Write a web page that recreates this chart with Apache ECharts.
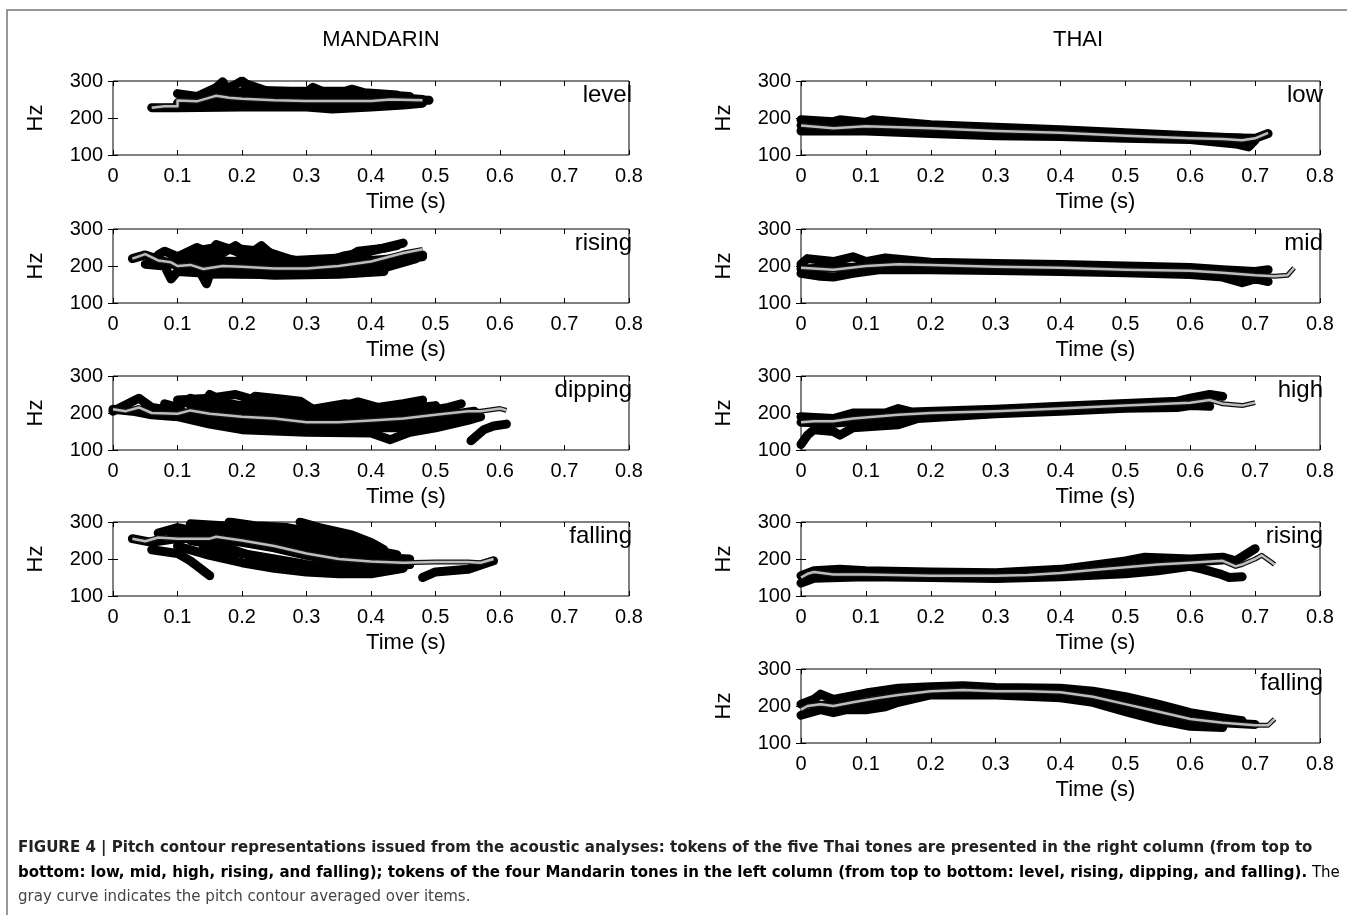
<!DOCTYPE html>
<html>
<head>
<meta charset="utf-8">
<script src="https://cdn.jsdelivr.net/npm/echarts@6/dist/echarts.min.js"></script>
<style>
  html, body { margin: 0; padding: 0; background: #fff; }
  #chart { width: 1347px; height: 915px; }
</style>
</head>
<body>
<div id="chart"></div>
<script>
// ---------------- DATA ----------------
const xTickLabels = ['0', '0.1', '0.2', '0.3', '0.4', '0.5', '0.6', '0.7', '0.8'];
const yTickLabels = ['100', '200', '300'];
const columnTitles = ['MANDARIN', 'THAI'];
const mandarinTones = ['level', 'rising', 'dipping', 'falling'];
const thaiTones = ['low', 'mid', 'high', 'rising', 'falling'];

// Mandarin level
const mLevelTokens = [
  [[0.06,228],[0.1,228],[0.2,230],[0.3,230],[0.34,224],[0.4,230],[0.45,235],[0.48,240]],
  [[0.1,240],[0.2,242],[0.3,240],[0.4,242],[0.48,245]],
  [[0.1,266],[0.13,258],[0.16,282],[0.17,298],[0.18,270],[0.25,262],[0.35,262],[0.42,258],[0.48,250]],
  [[0.15,260],[0.19,290],[0.2,300],[0.22,275],[0.3,270],[0.31,283],[0.33,268],[0.4,265],[0.46,258]],
  [[0.12,250],[0.2,255],[0.3,252],[0.4,252],[0.49,248]],
  [[0.16,262],[0.2,268],[0.21,290],[0.24,272],[0.36,272],[0.37,278],[0.39,268],[0.44,262]]
];
const mLevelMean = [[0.06,228],[0.08,232],[0.1,232],[0.1,247],[0.13,245],[0.15,255],[0.16,260],[0.18,255],[0.2,252],[0.25,248],[0.3,246],[0.4,246],[0.43,250],[0.48,248]];

// Mandarin rising
const mRisingTokens = [
  [[0.03,220],[0.05,230],[0.07,218],[0.09,205],[0.11,200],[0.14,195],[0.2,195],[0.3,190],[0.35,195],[0.4,205],[0.45,220],[0.48,230]],
  [[0.05,205],[0.08,200],[0.09,165],[0.1,185],[0.15,180],[0.2,178],[0.3,178],[0.38,182],[0.42,195],[0.47,220]],
  [[0.13,200],[0.145,152],[0.15,178],[0.2,180],[0.25,175],[0.35,178],[0.42,185]],
  [[0.07,230],[0.08,240],[0.1,225],[0.13,250],[0.15,235],[0.16,258],[0.19,240],[0.2,230],[0.25,225],[0.3,210],[0.33,212],[0.36,228],[0.4,240],[0.45,262]],
  [[0.1,215],[0.17,235],[0.19,255],[0.21,230],[0.23,255],[0.25,225],[0.3,205],[0.35,210],[0.38,240],[0.42,248],[0.44,255]],
  [[0.12,238],[0.16,250],[0.2,245],[0.24,238],[0.28,215],[0.36,222],[0.4,215],[0.44,220],[0.48,228]],
  [[0.08,210],[0.12,215],[0.2,212],[0.25,205],[0.3,198],[0.35,200],[0.4,210],[0.44,218],[0.48,225]]
];
const mRisingMean = [[0.03,220],[0.05,232],[0.07,215],[0.09,210],[0.1,200],[0.12,203],[0.14,192],[0.17,200],[0.2,198],[0.25,193],[0.3,193],[0.35,200],[0.4,212],[0.45,235],[0.48,245]];

// Mandarin dipping
const mDippingTokens = [
  [[0,210],[0.03,205],[0.06,195],[0.1,190],[0.15,170],[0.2,155],[0.3,148],[0.4,146],[0.43,128],[0.46,148],[0.5,160],[0.55,180],[0.57,190]],
  [[0,205],[0.04,240],[0.06,215],[0.1,205],[0.15,185],[0.2,175],[0.3,165],[0.4,165],[0.5,180],[0.56,200]],
  [[0.08,225],[0.1,215],[0.12,240],[0.14,225],[0.15,250],[0.18,225],[0.25,205],[0.3,190],[0.4,190],[0.45,195],[0.52,215],[0.54,225]],
  [[0.1,235],[0.15,240],[0.19,250],[0.22,235],[0.25,225],[0.28,215],[0.33,205],[0.38,230],[0.41,215],[0.45,225],[0.48,235]],
  [[0.12,220],[0.2,220],[0.22,245],[0.26,238],[0.29,232],[0.31,210],[0.36,225],[0.42,210],[0.48,205],[0.52,210]],
  [[0.05,218],[0.1,195],[0.18,185],[0.25,175],[0.35,160],[0.45,160],[0.5,175],[0.55,190]],
  [[0.555,125],[0.575,155],[0.59,165],[0.61,170]],
  [[0.05,205],[0.1,200],[0.2,195],[0.3,180],[0.4,178],[0.5,190],[0.56,205]],
  [[0.15,205],[0.2,205],[0.3,200],[0.4,205],[0.45,210],[0.5,220]]
];
const mDippingMean = [[0,210],[0.02,205],[0.04,215],[0.06,200],[0.1,198],[0.12,207],[0.15,198],[0.2,190],[0.25,185],[0.3,175],[0.35,175],[0.4,180],[0.45,185],[0.5,195],[0.55,205],[0.57,205],[0.6,212],[0.61,207]];

// Mandarin falling
const mFallingTokens = [
  [[0.03,255],[0.06,245],[0.1,255],[0.15,258],[0.2,245],[0.25,230],[0.3,210],[0.35,195],[0.4,190],[0.46,185]],
  [[0.06,225],[0.1,215],[0.12,195],[0.15,155]],
  [[0.07,270],[0.1,285],[0.13,275],[0.18,270],[0.25,250],[0.3,235],[0.35,220],[0.4,205],[0.46,200]],
  [[0.12,295],[0.17,290],[0.2,285],[0.25,270],[0.3,255],[0.35,235],[0.4,215],[0.44,205]],
  [[0.18,300],[0.22,290],[0.27,285],[0.3,275],[0.35,255],[0.38,235],[0.41,210]],
  [[0.29,300],[0.32,285],[0.37,265],[0.4,245],[0.42,225]],
  [[0.1,235],[0.15,210],[0.2,190],[0.25,175],[0.3,165],[0.35,160],[0.4,160],[0.45,175]],
  [[0.12,250],[0.17,235],[0.22,205],[0.28,185],[0.33,175],[0.38,170],[0.43,180],[0.46,185]],
  [[0.48,150],[0.5,165],[0.55,172],[0.59,195]],
  [[0.09,265],[0.15,262],[0.2,262],[0.25,248],[0.3,225],[0.35,205],[0.4,198],[0.46,195]],
  [[0.14,230],[0.2,215],[0.25,200],[0.3,185],[0.35,175],[0.4,175],[0.45,190]],
  [[0.2,292],[0.24,280],[0.28,268],[0.32,250],[0.36,232],[0.4,225],[0.44,212]]
];
const mFallingMean = [[0.03,255],[0.05,248],[0.07,258],[0.1,255],[0.15,255],[0.16,260],[0.2,250],[0.25,235],[0.3,215],[0.35,200],[0.4,193],[0.45,190],[0.5,192],[0.55,192],[0.57,190],[0.59,200]];

// Thai low
const tLowTokens = [
  [[0,195],[0.05,190],[0.06,195],[0.1,188],[0.11,195],[0.2,182],[0.3,175],[0.4,168],[0.5,160],[0.6,152],[0.68,145]],
  [[0,165],[0.1,165],[0.2,158],[0.3,152],[0.4,150],[0.5,145],[0.6,142],[0.67,130],[0.69,122],[0.7,140]],
  [[0,180],[0.1,178],[0.2,170],[0.3,163],[0.4,158],[0.5,152],[0.6,148],[0.7,145],[0.72,158]]
];
const tLowMean = [[0,180],[0.05,172],[0.1,178],[0.2,172],[0.3,165],[0.4,160],[0.5,152],[0.6,145],[0.65,143],[0.68,140],[0.7,145],[0.72,160]];

// Thai mid
const tMidTokens = [
  [[0,205],[0.01,220],[0.05,212],[0.08,225],[0.1,212],[0.13,222],[0.2,210],[0.3,207],[0.4,204],[0.5,200],[0.6,196],[0.65,190],[0.7,185],[0.72,190]],
  [[0,180],[0.03,172],[0.05,170],[0.08,180],[0.12,190],[0.2,190],[0.3,188],[0.4,185],[0.5,182],[0.6,177],[0.65,170],[0.68,155],[0.7,165],[0.72,158]],
  [[0,192],[0.1,198],[0.2,200],[0.3,196],[0.4,195],[0.5,190],[0.6,186],[0.7,178]]
];
const tMidMean = [[0,195],[0.05,190],[0.1,200],[0.15,205],[0.2,203],[0.3,198],[0.4,195],[0.5,190],[0.6,187],[0.65,182],[0.7,175],[0.73,172],[0.75,175],[0.76,195]];

// Thai high
const tHighTokens = [
  [[0,190],[0.05,185],[0.08,200],[0.13,200],[0.15,212],[0.17,203],[0.3,210],[0.4,218],[0.5,226],[0.58,232],[0.6,240],[0.63,250],[0.65,245]],
  [[0,115],[0.01,140],[0.02,155],[0.05,150],[0.06,140],[0.08,160],[0.12,165],[0.15,168],[0.18,185],[0.3,198],[0.4,205],[0.5,213],[0.58,215],[0.6,220],[0.63,218]],
  [[0,175],[0.05,172],[0.1,180],[0.15,190],[0.2,200],[0.3,204],[0.4,212],[0.5,220],[0.6,226],[0.63,238]]
];
const tHighMean = [[0,175],[0.02,178],[0.05,178],[0.08,185],[0.15,195],[0.2,200],[0.3,205],[0.4,212],[0.5,220],[0.6,228],[0.63,235],[0.65,225],[0.68,220],[0.7,228]];

// Thai rising
const tRisingTokens = [
  [[0,135],[0.02,148],[0.1,152],[0.2,150],[0.3,147],[0.4,152],[0.5,160],[0.55,168],[0.6,180],[0.62,172],[0.645,160],[0.66,150],[0.68,152]],
  [[0,155],[0.02,168],[0.06,172],[0.1,168],[0.2,165],[0.3,163],[0.4,172],[0.5,195],[0.53,205],[0.6,200],[0.65,205],[0.67,195],[0.7,228]],
  [[0.02,160],[0.1,160],[0.2,157],[0.3,155],[0.4,162],[0.5,180],[0.55,190],[0.6,192],[0.65,197]]
];
const tRisingMean = [[0,150],[0.01,160],[0.02,165],[0.05,158],[0.1,158],[0.2,155],[0.3,155],[0.35,157],[0.4,162],[0.45,170],[0.5,178],[0.55,185],[0.6,190],[0.65,195],[0.67,180],[0.68,185],[0.7,200],[0.71,210],[0.72,198],[0.73,185]];

// Thai falling
const tFallingTokens = [
  [[0,205],[0.02,218],[0.03,232],[0.05,218],[0.08,228],[0.1,235],[0.15,248],[0.2,252],[0.25,255],[0.3,250],[0.4,248],[0.45,240],[0.5,225],[0.55,205],[0.6,182],[0.65,168],[0.68,160]],
  [[0,175],[0.03,190],[0.05,182],[0.07,190],[0.1,190],[0.13,198],[0.15,210],[0.2,230],[0.3,230],[0.4,222],[0.45,210],[0.5,185],[0.55,162],[0.6,145],[0.65,142]],
  [[0.02,200],[0.05,205],[0.1,210],[0.15,225],[0.2,240],[0.3,240],[0.4,235],[0.45,225],[0.5,205],[0.55,185],[0.6,165],[0.65,155],[0.7,150]]
];
const tFallingMean = [[0,190],[0.01,200],[0.03,205],[0.05,200],[0.08,210],[0.12,222],[0.15,230],[0.2,240],[0.25,243],[0.3,240],[0.35,240],[0.4,237],[0.45,225],[0.5,205],[0.55,185],[0.6,165],[0.65,155],[0.7,148],[0.72,148],[0.73,165]];

const captionBold1 = 'FIGURE 4 | Pitch contour representations issued from the acoustic analyses: tokens of the five Thai tones are presented in the right column (from top to';
const captionBold2 = 'bottom: low, mid, high, rising, and falling); tokens of the four Mandarin tones in the left column (from top to bottom: level, rising, dipping, and falling).';
const captionNormal2 = ' The';
const captionNormal3 = 'gray curve indicates the pitch contour averaged over items.';

// ---------------- LAYOUT ----------------
const panels = [
  { col: 0, row: 0, label: mandarinTones[0], tokens: mLevelTokens, mean: mLevelMean },
  { col: 0, row: 1, label: mandarinTones[1], tokens: mRisingTokens, mean: mRisingMean },
  { col: 0, row: 2, label: mandarinTones[2], tokens: mDippingTokens, mean: mDippingMean },
  { col: 0, row: 3, label: mandarinTones[3], tokens: mFallingTokens, mean: mFallingMean },
  { col: 1, row: 0, label: thaiTones[0], tokens: tLowTokens, mean: tLowMean },
  { col: 1, row: 1, label: thaiTones[1], tokens: tMidTokens, mean: tMidMean },
  { col: 1, row: 2, label: thaiTones[2], tokens: tHighTokens, mean: tHighMean },
  { col: 1, row: 3, label: thaiTones[3], tokens: tRisingTokens, mean: tRisingMean },
  { col: 1, row: 4, label: thaiTones[4], tokens: tFallingTokens, mean: tFallingMean }
];
const colLeft = [113, 801];
const colWidth = [516, 519];
const rowTop = [81, 229, 376, 522, 669];
const plotH = 74;
const FONT = '"Liberation Sans", Arial, Helvetica, sans-serif';

const grids = [], xAxes = [], yAxes = [], series = [], graphics = [];
const tickStyle = { show: true, inside: true, length: 5, lineStyle: { color: '#000', width: 1 } };

panels.forEach((p, i) => {
  const left = colLeft[p.col], top = rowTop[p.row], w = colWidth[p.col];
  grids.push({ left: left, top: top, width: w, height: plotH, show: true, borderColor: '#000', borderWidth: 1, backgroundColor: '#fff' });
  const xBase = { type: 'value', gridIndex: i, min: 0, max: 0.8, interval: 0.1, splitLine: { show: false }, axisLine: { show: false } };
  xAxes.push(Object.assign({}, xBase, {
    position: 'bottom', axisTick: tickStyle,
    axisLabel: { color: '#000', fontFamily: FONT, fontSize: 20, margin: 11,
      formatter: v => xTickLabels[Math.round(v * 10)] },
    name: 'Time (s)', nameLocation: 'middle', nameGap: 36,
    nameTextStyle: { color: '#000', fontFamily: FONT, fontSize: 22, padding: [0, 0, 0, 70] }
  }));
  xAxes.push(Object.assign({}, xBase, { position: 'top', axisTick: tickStyle, axisLabel: { show: false } }));
  const yBase = { type: 'value', gridIndex: i, min: 100, max: 300, interval: 100, splitLine: { show: false }, axisLine: { show: false } };
  yAxes.push(Object.assign({}, yBase, {
    position: 'left', axisTick: tickStyle,
    axisLabel: { color: '#000', fontFamily: FONT, fontSize: 20, margin: 10,
      formatter: v => yTickLabels[Math.round((v - 100) / 100)] },
    name: 'Hz', nameLocation: 'middle', nameGap: 66, nameRotate: 90,
    nameTextStyle: { color: '#000', fontFamily: FONT, fontSize: 22 }
  }));
  yAxes.push(Object.assign({}, yBase, { position: 'right', axisTick: tickStyle, axisLabel: { show: false } }));

  const xi = i * 2, yi = i * 2;
  p.tokens.forEach(tok => {
    series.push({ type: 'line', xAxisIndex: xi, yAxisIndex: yi, data: tok, showSymbol: false, silent: true,
      lineStyle: { color: '#000', width: 9, join: 'round', cap: 'round' }, z: 2 });
  });
  series.push({ type: 'line', xAxisIndex: xi, yAxisIndex: yi, data: p.mean, showSymbol: false, silent: true,
    lineStyle: { color: '#111', width: 5, join: 'round' }, z: 3 });
  series.push({ type: 'line', xAxisIndex: xi, yAxisIndex: yi, data: p.mean, showSymbol: false, silent: true,
    lineStyle: { color: '#bdbdbd', width: 2.5, join: 'round' }, z: 4 });

  graphics.push({ type: 'text', x: left + w + 3, y: top + 2, z: 10,
    style: { text: p.label, align: 'right', verticalAlign: 'top', fill: '#000', font: '24px ' + FONT } });
});

// column titles
graphics.push({ type: 'text', x: 381, y: 40, z: 10, style: { text: columnTitles[0], align: 'center', verticalAlign: 'middle', fill: '#000', font: '22px ' + FONT } });
graphics.push({ type: 'text', x: 1078, y: 40, z: 10, style: { text: columnTitles[1], align: 'center', verticalAlign: 'middle', fill: '#000', font: '22px ' + FONT } });
// border
graphics.push({ type: 'rect', shape: { x: 7, y: 10, width: 1360, height: 930 }, z: 0, style: { fill: 'none', stroke: '#777', lineWidth: 1.5 } });
// caption
const CAPF = '"Liberation Sans Narrow", "DejaVu Sans Condensed", "Roboto Condensed", sans-serif';
const CAPS = 16.7;
graphics.push({ type: 'text', x: 18, y: 848, z: 10, style: { text: captionBold1, verticalAlign: 'middle', fill: '#222', font: 'bold ' + CAPS + 'px ' + CAPF } });
graphics.push({ type: 'text', x: 18, y: 873, z: 10, style: {
  text: '{b|' + captionBold2 + '}{n|' + captionNormal2 + '}', verticalAlign: 'middle',
  rich: { b: { fontWeight: 'bold', fontSize: CAPS, fontFamily: CAPF, color: '#222' },
          n: { fontSize: CAPS, fontFamily: CAPF, color: '#444' } } } });
graphics.push({ type: 'text', x: 18, y: 897, z: 10, style: { text: captionNormal3, verticalAlign: 'middle', fill: '#444', font: CAPS + 'px ' + CAPF } });

const chart = echarts.init(document.getElementById('chart'), null, { renderer: 'canvas' });
chart.setOption({
  animation: false,
  backgroundColor: '#fff',
  grid: grids, xAxis: xAxes, yAxis: yAxes, series: series, graphic: graphics
});
</script>
</body>
</html>
